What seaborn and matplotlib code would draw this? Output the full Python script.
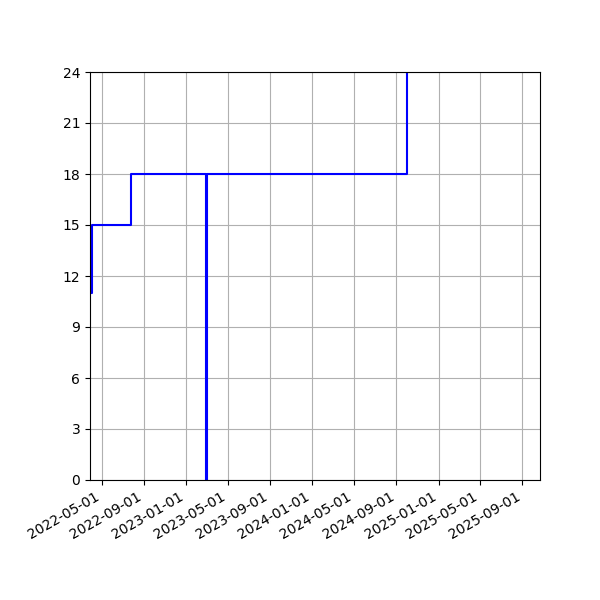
import numpy as np
import matplotlib
matplotlib.use('Agg')
import matplotlib.pyplot as plt
import matplotlib.dates as mdates
import pandas as pd
import seaborn as sns

# valores (escalones)
fechas = ['2022-04-01', '2022-04-04', '2022-07-26', '2023-02-28', '2023-03-01', '2024-10-01']
valores = [11, 15, 18, 0, 18, 27]

data = pd.DataFrame({'fecha': pd.to_datetime(fechas), 'valor': valores})

fig, ax = plt.subplots(figsize=(6, 6), dpi=100)
sns.lineplot(data=data, x='fecha', y='valor', drawstyle='steps-post', color='blue', ax=ax)

ax.set_ylim(0, 24)
ax.set_yticks(range(0, 25, 3))
ax.set_xlim(pd.Timestamp('2022-03-28'), pd.Timestamp('2025-10-22'))
ax.xaxis.set_major_locator(mdates.MonthLocator(bymonth=(1, 5, 9)))
ax.xaxis.set_major_formatter(mdates.DateFormatter('%Y-%m-%d'))
ax.set_xlabel('')
ax.set_ylabel('')
ax.grid(True)

fig.autofmt_xdate()
fig.subplots_adjust(left=0.15, right=0.9, top=0.88, bottom=0.2)
fig.savefig('out.png', dpi=100)
